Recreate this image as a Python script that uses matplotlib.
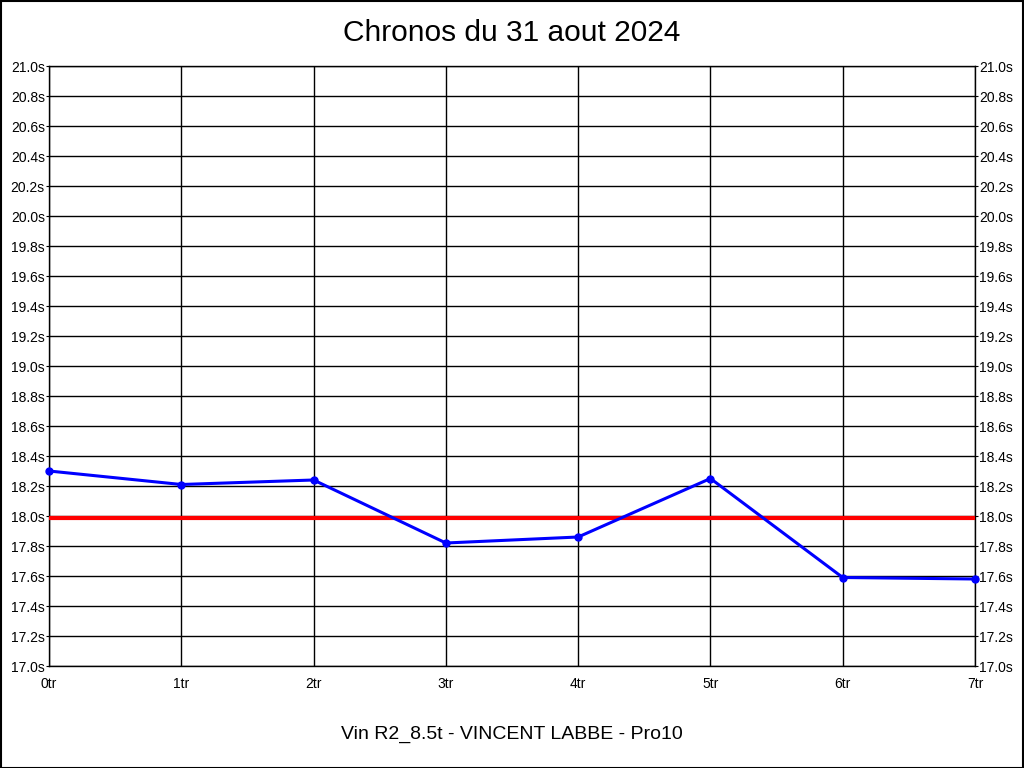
import matplotlib.pyplot as plt
from matplotlib.patches import Rectangle

plt.rcParams['font.family'] = ['Liberation Sans', 'DejaVu Sans']

laps = [0, 1, 2, 3, 4, 5, 6, 7]
lap_labels = ['0tr', '1tr', '2tr', '3tr', '4tr', '5tr', '6tr', '7tr']
times = [18.30, 18.21, 18.24, 17.82, 17.86, 18.25, 17.59, 17.58]
target = 17.99
y_ticks = [17.0 + 0.2 * i for i in range(21)]

fig = plt.figure(figsize=(10.24, 7.68), dpi=100)
ax = fig.add_axes([49 / 1024, 1 - 666 / 768, 926 / 1024, 600 / 768])

ax.set_xlim(0, 7)
ax.set_ylim(17.0, 21.0)
ax.set_xticks(laps)
ax.set_xticklabels(lap_labels)
ax.set_yticks(y_ticks)
ax.set_yticklabels([f'{v:.1f}s' for v in y_ticks])
ax.grid(True, color='black', linewidth=1)
ax.set_axisbelow(True)
ax.tick_params(axis='y', which='both', left=True, right=True,
               labelleft=True, labelright=True, length=2, pad=1,
               labelsize=10, colors='black')
ax.tick_params(axis='x', length=0, pad=8, labelsize=10)
for s in ax.spines.values():
    s.set_color('black')
    s.set_linewidth(1)

ax.axhline(target, color='#ff0000', linewidth=3, zorder=3)
ax.plot(laps, times, color='#0000ff', linewidth=2.2, marker='o',
        markersize=5, clip_on=False, zorder=4)

fig.text(0.5, 1 - 33 / 768, 'Chronos du 31 aout 2024', ha='center',
         va='center', fontsize=21.5)
fig.text(0.5, 1 - 734 / 768, 'Vin R2_8.5t - VINCENT LABBE - Pro10',
         ha='center', va='center', fontsize=14)

fig.patches.append(Rectangle((0.5 / 1024, 0.5 / 768), 1 - 1.5 / 1024,
                             1 - 1.5 / 768, transform=fig.transFigure,
                             fill=False, edgecolor='black', linewidth=1.5))

fig.savefig('out.png', dpi=100)
